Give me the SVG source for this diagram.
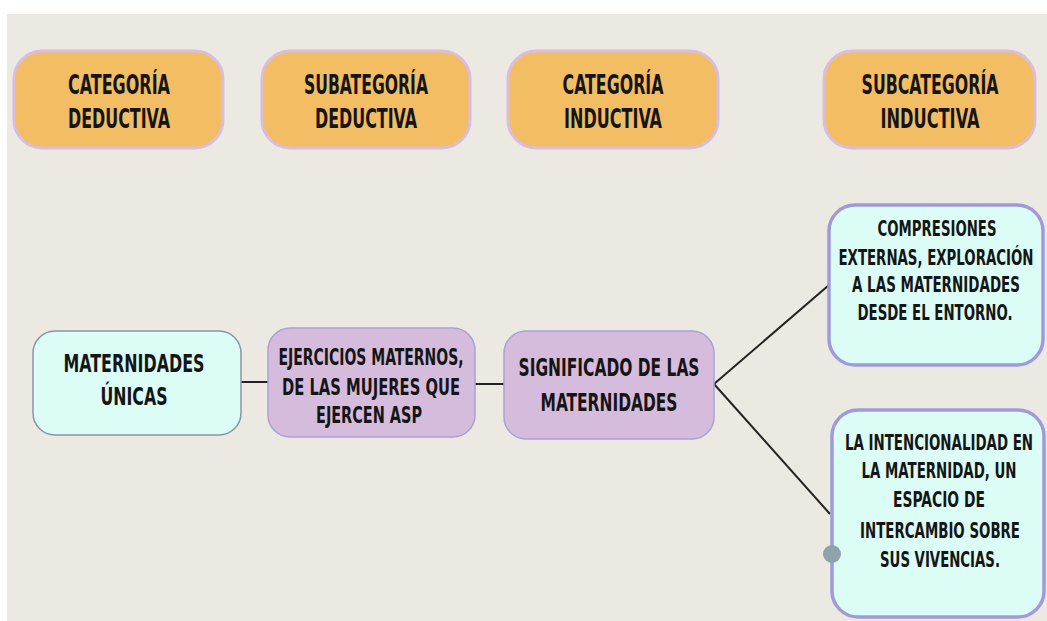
<svg xmlns="http://www.w3.org/2000/svg" width="1047" height="621" viewBox="0 0 1047 621">
<style>
.t{font-family:"DejaVu Sans Condensed","Liberation Sans Narrow","Liberation Sans",sans-serif;font-weight:bold;fill:#151515;text-anchor:middle}
.h{fill:#f3bd64;stroke:#d9bedc;stroke-width:3}
.cy{fill:#dcfcf6;stroke:#8597a8;stroke-width:1.5}
.pu{fill:#d6bcdc;stroke:#a8a2d2;stroke-width:1.5}
.cb{fill:#dcfcf6;stroke:#a09ad8;stroke-width:3.5}
.c{stroke:#222;stroke-width:2;fill:none}
.f20{font-size:20px}
.f19{font-size:19px}
.f16{font-size:16px}
.f15{font-size:15px}
</style>
<rect x="0" y="0" width="1047" height="621" fill="#ffffff"/>
<rect x="7" y="14" width="1040" height="607" fill="#ece9e2"/>
<g id="connectors">
<line class="c" x1="241" y1="382" x2="268" y2="382"/>
<line class="c" x1="475" y1="384" x2="504" y2="384"/>
<line class="c" x1="714" y1="384" x2="829" y2="285"/>
<line class="c" x1="714" y1="384" x2="830" y2="514"/>
</g>
<g id="h1">
<rect class="h" x="14" y="51" width="209" height="97" rx="28"/>
<text class="t f20" transform="translate(119 94) scale(1 1.35)" textLength="102" lengthAdjust="spacingAndGlyphs">CATEGORÍA</text>
<text class="t f20" transform="translate(119 128) scale(1 1.35)" textLength="102" lengthAdjust="spacingAndGlyphs">DEDUCTIVA</text>
</g>
<g id="h2">
<rect class="h" x="262" y="51" width="208" height="97" rx="28"/>
<text class="t f20" transform="translate(366 94) scale(1 1.35)" textLength="124" lengthAdjust="spacingAndGlyphs">SUBATEGORÍA</text>
<text class="t f20" transform="translate(366 128) scale(1 1.35)" textLength="102" lengthAdjust="spacingAndGlyphs">DEDUCTIVA</text>
</g>
<g id="h3">
<rect class="h" x="508" y="51" width="210" height="97" rx="28"/>
<text class="t f20" transform="translate(613 94) scale(1 1.35)" textLength="101" lengthAdjust="spacingAndGlyphs">CATEGORÍA</text>
<text class="t f20" transform="translate(613 128) scale(1 1.35)" textLength="98" lengthAdjust="spacingAndGlyphs">INDUCTIVA</text>
</g>
<g id="h4">
<rect class="h" x="824" y="51" width="211" height="97" rx="28"/>
<text class="t f20" transform="translate(930 94) scale(1 1.35)" textLength="137" lengthAdjust="spacingAndGlyphs">SUBCATEGORÍA</text>
<text class="t f20" transform="translate(930 128) scale(1 1.35)" textLength="99" lengthAdjust="spacingAndGlyphs">INDUCTIVA</text>
</g>
<g id="n1">
<rect class="cy" x="33" y="331" width="208" height="104" rx="22"/>
<text class="t f19" transform="translate(134 372) scale(1 1.35)" textLength="141" lengthAdjust="spacingAndGlyphs">MATERNIDADES</text>
<text class="t f19" transform="translate(134 405) scale(1 1.35)" textLength="67" lengthAdjust="spacingAndGlyphs">ÚNICAS</text>
</g>
<g id="n2">
<rect class="pu" x="268" y="328" width="207" height="109" rx="22"/>
<text class="t f16" transform="translate(371 365) scale(1 1.45)" textLength="185" lengthAdjust="spacingAndGlyphs">EJERCICIOS MATERNOS,</text>
<text class="t f16" transform="translate(371 395) scale(1 1.45)" textLength="178" lengthAdjust="spacingAndGlyphs">DE LAS MUJERES QUE</text>
<text class="t f16" transform="translate(369 423) scale(1 1.45)" textLength="106" lengthAdjust="spacingAndGlyphs">EJERCEN ASP</text>
</g>
<g id="n3">
<rect class="pu" x="504" y="331" width="210" height="108" rx="22"/>
<text class="t f19" transform="translate(609 376) scale(1 1.35)" textLength="181" lengthAdjust="spacingAndGlyphs">SIGNIFICADO DE LAS</text>
<text class="t f19" transform="translate(609 411) scale(1 1.35)" textLength="137" lengthAdjust="spacingAndGlyphs">MATERNIDADES</text>
</g>
<g id="n4">
<rect class="cb" x="829" y="205" width="214" height="160" rx="26"/>
<text class="t f15" transform="translate(937 236) scale(1 1.4)" textLength="119" lengthAdjust="spacingAndGlyphs">COMPRESIONES</text>
<text class="t f15" transform="translate(936 265) scale(1 1.4)" textLength="195" lengthAdjust="spacingAndGlyphs">EXTERNAS, EXPLORACIÓN</text>
<text class="t f15" transform="translate(936 292) scale(1 1.4)" textLength="168" lengthAdjust="spacingAndGlyphs">A LAS MATERNIDADES</text>
<text class="t f15" transform="translate(935 320) scale(1 1.4)" textLength="155" lengthAdjust="spacingAndGlyphs">DESDE EL ENTORNO.</text>
</g>
<g id="n5">
<rect class="cb" x="832" y="410" width="212" height="207" rx="26"/>
<text class="t f15" transform="translate(939 450) scale(1 1.45)" textLength="188" lengthAdjust="spacingAndGlyphs">LA INTENCIONALIDAD EN</text>
<text class="t f15" transform="translate(939 478) scale(1 1.45)" textLength="155" lengthAdjust="spacingAndGlyphs">LA MATERNIDAD, UN</text>
<text class="t f15" transform="translate(939 507) scale(1 1.45)" textLength="92" lengthAdjust="spacingAndGlyphs">ESPACIO DE</text>
<text class="t f15" transform="translate(940 538) scale(1 1.45)" textLength="160" lengthAdjust="spacingAndGlyphs">INTERCAMBIO SOBRE</text>
<text class="t f15" transform="translate(940 567) scale(1 1.45)" textLength="120" lengthAdjust="spacingAndGlyphs">SUS VIVENCIAS.</text>
<circle cx="832" cy="554" r="9" fill="#8fa3ad"/>
</g>
</svg>
